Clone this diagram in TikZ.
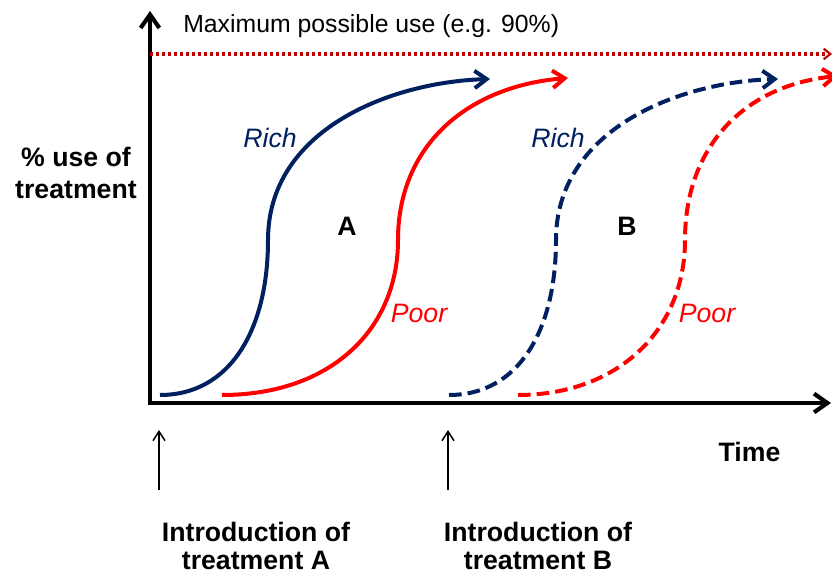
\documentclass[tikz,border=0pt]{standalone}
\usepackage{fontspec}
\setmainfont{Liberation Sans}
\usepackage{xcolor}
\usepackage{tikz}
\usetikzlibrary{arrows.meta}
\definecolor{RichBlue}{HTML}{002060}
\colorlet{PoorRed}{red}
\definecolor{MaxRed}{HTML}{C00000}

\tikzset{
  axisline/.style={line width=3.1pt, line join=miter,
    {Straight Barb[length=10pt,width=14pt]}-{Straight Barb[length=10pt,width=14pt]}},
  curve/.style={line width=3pt, -{Straight Barb[length=9pt,width=13pt]}},
  later/.style={dash pattern=on 9.5pt off 4.5pt},
  maxline/.style={MaxRed, line width=2.3pt, dash pattern=on 2.3pt off 2.2pt,
    -{Straight Barb[length=5pt,width=8pt,line width=1.6pt]}},
  intro/.style={line width=1.1pt, -{Straight Barb[length=7pt,width=9pt]}},
  txt/.style={font=\fontsize{20}{24}\selectfont, inner sep=0pt, anchor=base},
  bold/.style={font=\fontsize{20}{24}\selectfont\bfseries, inner sep=0pt},
  ital/.style={font=\fontsize{20}{24}\selectfont\itshape, inner sep=0pt, anchor=base}
}

\begin{document}
\begin{tikzpicture}[x=0.75pt, y=-0.75pt]
        \useasboundingbox (0,0) rectangle (832,580);

        % axes
        \coordinate (Ytop) at (150,11);
        \coordinate (O) at (150,403);
        \coordinate (Xend) at (831,403);
        \draw[axisline] (Ytop) -- (O) -- (Xend);

        % maximum line
        \coordinate (M0) at (150,54);
        \coordinate (M1) at (832,54);
        \draw[maxline] (M0) -- (M1);
        \node[txt, font=\fontsize{18.6}{22}\selectfont, anchor=base west] (max) at (183,32.3) {Maximum possible use (e.g. 90\%)};

        % curve points
        \coordinate (RA0) at (160,395);
        \coordinate (RA1) at (268,240);
        \coordinate (RA2) at (490,79);
        \coordinate (PA0) at (222,395);
        \coordinate (PA1) at (398,240);
        \coordinate (PA2) at (568,78);
        \coordinate (RB0) at (449,395);
        \coordinate (RB1) at (556,240);
        \coordinate (RB2) at (778,79);
        \coordinate (PB0) at (518,395);
        \coordinate (PB1) at (685,240);
        \coordinate (PB2) at (838,76);

        % curves
        \draw[curve, RichBlue] (RA0) .. controls +(70,0) and +(0,90) .. (RA1) .. controls +(0,-110) and +(-100,3) .. (RA2);
        \draw[curve, PoorRed] (PA0) .. controls +(108,0) and +(0,90) .. (PA1) .. controls +(0,-95) and +(-100,8) .. (PA2);
        \draw[curve, later, RichBlue] (RB0) .. controls +(70,0) and +(0,90) .. (RB1) .. controls +(0,-110) and +(-100,3) .. (RB2);
        \draw[curve, later, PoorRed] (PB0) .. controls +(100,0) and +(0,90) .. (PB1) .. controls +(0,-95) and +(-92,9) .. (PB2);

        % labels
        \node[ital, RichBlue] (richA) at (270,148) {Rich};
        \node[txt, font=\fontsize{20}{24}\selectfont\bfseries] (A) at (347,236) {A};
        \node[ital, PoorRed] (poorA) at (419,322.7) {Poor};
        \node[ital, RichBlue, xshift=216pt] (richB) at (richA.base) {Rich};
        \node[txt, font=\fontsize{20}{24}\selectfont\bfseries, xshift=210pt] (B) at (A.base) {B};
        \node[ital, PoorRed, xshift=216pt] (poorB) at (poorA.base) {Poor};
        \node[bold, align=center] (yl) at (76,173) {\% use of\\treatment};
        \node[txt, font=\fontsize{20}{24}\selectfont\bfseries] (time) at (749.5,462) {Time};

        % introductions
        \coordinate (IA0) at (159,490);
        \coordinate (IA1) at (159,430);
        \coordinate (IB0) at (448,490);
        \coordinate (IB1) at (448,430);
        \draw[intro] (IA0) -- (IA1);
        \draw[intro] (IB0) -- (IB1);
        \node[bold, align=center, font=\fontsize{20}{21.5}\selectfont\bfseries] (introA) at (256,546) {Introduction of\\treatment A};
        \node[bold, align=center, font=\fontsize{20}{21.5}\selectfont\bfseries] (introB) at (538,546) {Introduction of\\treatment B};
\end{tikzpicture}
\end{document}
